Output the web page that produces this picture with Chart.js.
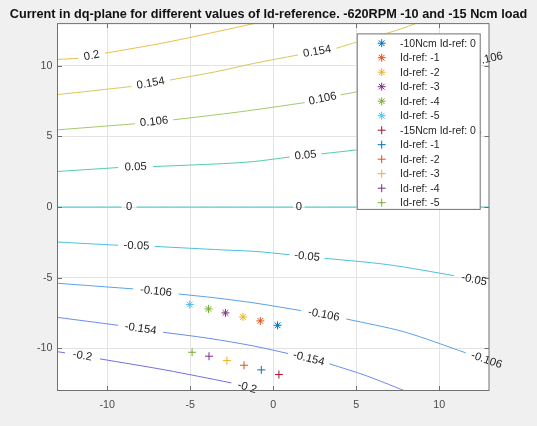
<!DOCTYPE html>
<html>
<head>
<meta charset="utf-8">
<title>Current in dq-plane</title>
<script src="https://cdn.jsdelivr.net/npm/chart.js@4.4.1/dist/chart.umd.min.js"></script>
<style>
  html, body { margin: 0; padding: 0; background: #f0f0f0; }
  canvas { display: block; }
</style>
</head>
<body>
<canvas id="chart" width="537" height="426"></canvas>
<script>
// ---- measured operating points (Id, Iq) ----
const idRefs = [0, -1, -2, -3, -4, -5];
const load10Id = [0.26, -0.78, -1.82, -2.88, -3.90, -5.03];
const load10Iq = [-8.38, -8.07, -7.79, -7.50, -7.22, -6.91];
const load15Id = [0.34, -0.72, -1.76, -2.79, -3.87, -4.89];
const load15Iq = [-11.87, -11.54, -11.21, -10.88, -10.57, -10.29];

// ---- axis ticks ----
const xTickValues = [-10, -5, 0, 5, 10];
const yTickValues = [-10, -5, 0, 5, 10];

// ---- torque contour lines: [Id, Iq] vertices, null = gap holding the level label ----
const contourLevels = ['0.2', '0.154', '0.106', '0.05', '0', '-0.05', '-0.106', '-0.154', '-0.2'];
const contourP020 = [[-13, 10.46], [-11.75, 10.54], null, [-10.14, 10.9], [-6.53, 11.65], [-2.92, 12.55], [-0.4, 13.2]];
const contourP0154 = [[-13, 7.97], [-8.54, 8.54], null, [-6.23, 9.0], [-3.5, 9.58], [-1.12, 10.19], [1.49, 10.78], null,
  [3.8, 11.25], [5.1, 11.72], [7.5, 12.55], [8.8, 13.1]];
const contourP0106 = [[-13, 5.47], [-8.34, 5.9], null, [-6.03, 6.18], [-3.0, 6.6], [-1.12, 6.89], [1.89, 7.4], null,
  [4.06, 7.95], [5.1, 8.18], [7.9, 8.85], [11.5, 10.1], null, [14.5, 10.9]];
const contourP005 = [[-13, 2.52], [-9.34, 2.8], null, [-7.24, 2.87], [-3.0, 3.08], [-1.12, 3.23], [0.99, 3.55], null,
  [2.9, 3.77], [5.1, 4.06], [7.5, 4.42], [10.9, 4.95], null, [12.9, 5.45]];
const contourZero = [[-13, 0], [-9.14, 0], null, [-8.24, 0], [1.19, 0], null, [1.89, 0], [13, 0]];
const contourN005 = [[-13, -2.48], [-9.34, -2.71], null, [-7.14, -2.79], [-3.0, -3.04], [-1.12, -3.14], [0.99, -3.38], null,
  [3.09, -3.63], [6.9, -4.08], [10.9, -4.86], null, [13.3, -5.45]];
const contourN0106 = [[-13, -5.4], [-8.44, -5.8], null, [-5.69, -6.16], [-3.4, -6.45], [-1.12, -6.8], [1.69, -7.34], null,
  [4.4, -7.93], [7.9, -8.85], [11.6, -10.33], null, [14.1, -11.37]];
const contourN0154 = [[-13, -7.82], [-9.34, -8.38], null, [-6.64, -8.87], [-3.9, -9.3], [-1.12, -9.86], [0.89, -10.38], null,
  [3.39, -11.11], [5.6, -11.95], [8.3, -13.2]];
const contourN020 = [[-13, -10.25], [-12.55, -10.33], null, [-10.44, -10.76], [-6.48, -11.55], [-2.52, -12.46], null, [-0.62, -13.12]];
const contourPaths = [contourP020, contourP0154, contourP0106, contourP005, contourZero,
  contourN005, contourN0106, contourN0154, contourN020];

// ---- styling ----
const contourColors = ['#ecbf4a', '#d9c75a', '#a5c96a', '#55cbae', '#45c6c2', '#4cc0da', '#5aa2e8', '#6a8cec', '#6f6fe6'];
const load10Colors = ['#0072BD', '#D95319', '#EDB120', '#7E2F8E', '#77AC30', '#4DBEEE'];
const load15Colors = ['#A2142F', '#0072BD', '#D95319', '#EDB120', '#7E2F8E', '#77AC30'];
const FONT = '"Liberation Sans", Arial, Helvetica, sans-serif';
const TITLE = 'Current in dq-plane for different values of Id-reference. -620RPM -10 and -15 Ncm load';

function legendText(prefix, ref) {
  return (ref === 0 ? prefix + ' ' : '') + 'Id-ref: ' + ref;
}

const datasets = [];
idRefs.forEach((ref, i) => {
  datasets.push({
    label: legendText('-10Ncm', ref),
    data: [{ x: load10Id[i], y: load10Iq[i] }],
    pointStyle: 'star', pointRadius: 4, pointBorderWidth: 1,
    borderColor: load10Colors[i], backgroundColor: load10Colors[i],
    showLine: false, order: 0, isMarker: true
  });
});
idRefs.forEach((ref, i) => {
  datasets.push({
    label: legendText('-15Ncm', ref),
    data: [{ x: load15Id[i], y: load15Iq[i] }],
    pointStyle: 'cross', pointRadius: 4, pointBorderWidth: 1,
    borderColor: load15Colors[i], backgroundColor: load15Colors[i],
    showLine: false, order: 0, isMarker: true
  });
});
contourPaths.forEach((path, k) => {
  datasets.push({
    label: 'level ' + contourLevels[k],
    data: path.map(p => p ? { x: p[0], y: p[1] } : { x: null, y: null }),
    showLine: true, spanGaps: false, pointRadius: 0, pointHoverRadius: 0,
    borderColor: contourColors[k], borderWidth: 1, tension: 0.3,
    order: 1, contourPath: path, levelText: contourLevels[k]
  });
});

// white plot area on the grey figure
const plotBackground = {
  id: 'plotBackground',
  beforeDraw(chart) {
    const { ctx, chartArea: a } = chart;
    ctx.save();
    ctx.fillStyle = '#ffffff';
    ctx.fillRect(a.left, a.top, a.right - a.left, a.bottom - a.top);
    ctx.restore();
  }
};

// contour labels, axes box with inward ticks, title and the inset legend
const overlay = {
  id: 'overlay',
  afterDatasetsDraw(chart) {
    const { ctx, chartArea: a, scales: { x, y } } = chart;
    ctx.save();

    // level labels, centred in each gap and aligned with the line
    ctx.font = '11.3px ' + FONT;
    ctx.fillStyle = '#222222';
    ctx.textAlign = 'center';
    ctx.textBaseline = 'middle';
    chart.data.datasets.forEach(ds => {
      if (!ds.contourPath) return;
      const p = ds.contourPath;
      for (let i = 1; i < p.length - 1; i++) {
        if (p[i] !== null) continue;
        const ax = x.getPixelForValue(p[i - 1][0]), ay = y.getPixelForValue(p[i - 1][1]);
        const bx = x.getPixelForValue(p[i + 1][0]), by = y.getPixelForValue(p[i + 1][1]);
        let ang = Math.atan2(by - ay, bx - ax);
        if (ang > Math.PI / 2) ang -= Math.PI;
        if (ang < -Math.PI / 2) ang += Math.PI;
        ctx.save();
        ctx.translate((ax + bx) / 2, (ay + by) / 2);
        ctx.rotate(ang);
        ctx.fillText(ds.levelText, 0, 0);
        ctx.restore();
      }
    });

    // axes box and inward tick marks on all four sides
    ctx.strokeStyle = '#707070';
    ctx.lineWidth = 1;
    ctx.strokeRect(a.left, a.top, a.right - a.left, a.bottom - a.top);
    const tl = 4.5;
    ctx.beginPath();
    xTickValues.forEach(v => {
      const px = Math.round(x.getPixelForValue(v)) + 0.5;
      ctx.moveTo(px, a.bottom); ctx.lineTo(px, a.bottom - tl);
      ctx.moveTo(px, a.top); ctx.lineTo(px, a.top + tl);
    });
    yTickValues.forEach(v => {
      const py = Math.round(y.getPixelForValue(v)) + 0.5;
      ctx.moveTo(a.left, py); ctx.lineTo(a.left + tl, py);
      ctx.moveTo(a.right, py); ctx.lineTo(a.right - tl, py);
    });
    ctx.stroke();

    // title
    ctx.font = 'bold 12.7px ' + FONT;
    ctx.fillStyle = '#111111';
    ctx.textAlign = 'center';
    ctx.textBaseline = 'middle';
    ctx.fillText(TITLE, 268.5, 14);

    // legend box in the upper right corner of the axes
    const markers = chart.data.datasets.filter(d => d.isMarker);
    const lx = a.right - 132.3, ly = a.top + 9.8, lw = 124, lh = 176.5;
    ctx.fillStyle = '#ffffff';
    ctx.fillRect(lx, ly, lw, lh);
    ctx.strokeStyle = '#707070';
    ctx.strokeRect(lx + 0.5, ly + 0.5, lw - 1, lh - 1);
    ctx.font = '10.5px ' + FONT;
    ctx.fillStyle = '#262626';
    ctx.textAlign = 'left';
    markers.forEach((d, i) => {
      const cy = ly + 9.8 + i * 14.5;
      ctx.strokeStyle = d.borderColor;
      ctx.fillStyle = d.borderColor;
      ctx.lineWidth = 1;
      Chart.helpers.drawPoint(ctx, { pointStyle: d.pointStyle, radius: 4, rotation: 0, borderWidth: 1 }, lx + 25, cy);
      ctx.fillStyle = '#262626';
      ctx.fillText(d.label, lx + 43.3, cy + 0.5);
    });
    ctx.restore();
  }
};

function fixedTicks(values) {
  return scale => { scale.ticks = values.map(v => ({ value: v })); };
}

new Chart(document.getElementById('chart'), {
  type: 'scatter',
  data: { datasets },
  options: {
    responsive: false,
    devicePixelRatio: 1,
    animation: false,
    events: [],
    layout: { padding: { left: 0, right: 48, top: 23.6, bottom: 0 } },
    plugins: { legend: { display: false }, title: { display: false }, tooltip: { enabled: false } },
    scales: {
      x: {
        type: 'linear', min: -13, max: 13,
        afterBuildTicks: fixedTicks(xTickValues),
        afterFit: s => { s.height = 35.5; },
        grid: { color: '#e3e3e3', drawTicks: false },
        border: { display: false },
        ticks: { color: '#4a4a4a', font: { family: FONT, size: 10.7 }, padding: 8.5, maxRotation: 0 }
      },
      y: {
        type: 'linear', min: -13, max: 13,
        afterBuildTicks: fixedTicks(yTickValues),
        afterFit: s => { s.width = 57.5; },
        grid: { color: '#e3e3e3', drawTicks: false },
        border: { display: false },
        ticks: { color: '#4a4a4a', font: { family: FONT, size: 10.7 }, padding: 5 }
      }
    }
  },
  plugins: [plotBackground, overlay]
});
</script>
</body>
</html>
